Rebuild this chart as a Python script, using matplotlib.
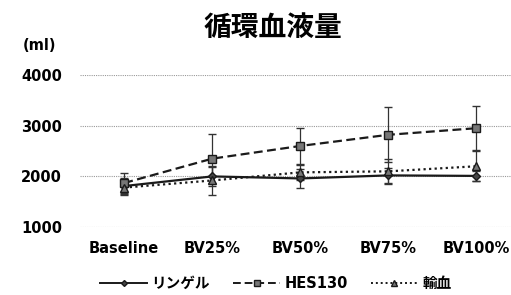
import numpy as np
import matplotlib
matplotlib.use("Agg")
import matplotlib.pyplot as plt
from matplotlib.lines import Line2D

plt.rcParams['font.family'] = ['DejaVu Sans', 'Noto Sans CJK JP']

categories = ["Baseline", "BV25%", "BV50%", "BV75%", "BV100%"]
ringer = [1810, 2000, 1960, 2020, 2010]
ringer_sd = [150, 180, 180, 150, 100]
hes = [1870, 2350, 2600, 2820, 2950]
hes_sd = [200, 480, 360, 540, 430]
blood = [1780, 1920, 2080, 2100, 2200]
blood_sd = [150, 280, 150, 250, 300]
yticks = [1000, 2000, 3000, 4000]

fig = plt.figure(figsize=(5.11, 2.95), dpi=100)
ax = fig.add_axes([0.157, 0.23, 0.861, 0.516])
x = np.arange(len(categories))

styles = [
    ("リンゲル", ringer, ringer_sd, "-", "D", 4, "#444444"),
    ("HES130", hes, hes_sd, (0, (4, 2)), "s", 6, "#777777"),
    ("輸血", blood, blood_sd, (0, (1, 1.5)), "^", 6, "#777777"),
]
handles = []
for label, vals, sd, ls, mk, ms, fc in styles:
    ax.errorbar(x, vals, yerr=sd, color="#1a1a1a", lw=1.6, ls=ls,
                marker=mk, ms=ms, mfc=fc, mec="#1a1a1a", capsize=3,
                elinewidth=0.9, ecolor="#333333", zorder=3)
    handles.append(Line2D([], [], color="#1a1a1a", lw=1.4, ls=ls, marker=mk,
                          ms=ms - 1, mfc=fc, mec="#1a1a1a", label=label))

ax.set_xlim(-0.5, 4.5)
ax.set_ylim(1000, 4000)
ax.set_yticks(yticks)
ax.set_yticklabels([str(v) for v in yticks], fontsize=10.5, fontweight="bold")
ax.set_xticks(x)
ax.set_xticklabels(categories, fontsize=10.5, fontweight="bold")
ax.tick_params(axis="both", length=0)
ax.tick_params(axis="y", pad=13)
ax.tick_params(axis="x", pad=10)
ax.grid(axis="y", color="#999999", lw=0.8, ls=(0, (1, 1)))
ax.set_axisbelow(True)
for sp in ax.spines.values():
    sp.set_visible(False)

fig.text(0.535, 0.905, "循環血液量", ha="center", va="center",
         fontsize=20, fontweight="bold")
fig.text(0.077, 0.847, "(ml)", ha="center", va="center",
         fontsize=10.5, fontweight="bold")

leg = fig.legend(handles=handles, loc="center", bbox_to_anchor=(0.54, 0.04),
                 ncol=3, frameon=False, fontsize=10.5, handlelength=3.2,
                 columnspacing=1.6, handletextpad=0.3)
for t in leg.get_texts():
    t.set_fontweight("bold")

fig.savefig("out.png", dpi=100)
